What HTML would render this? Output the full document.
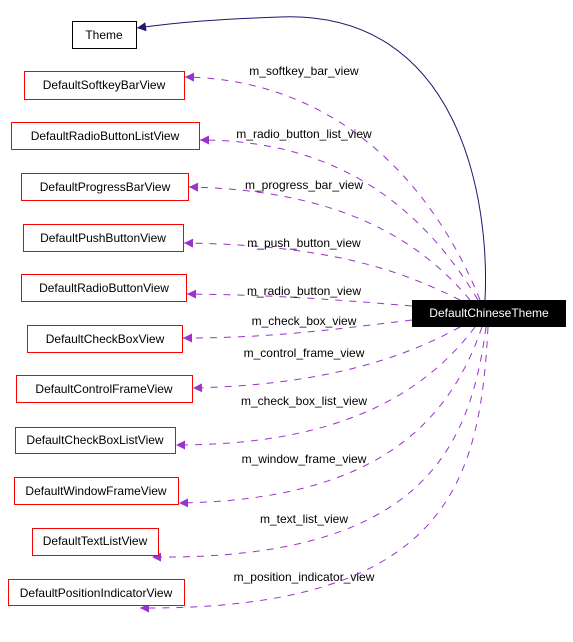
<!DOCTYPE html>
<html><head><meta charset="utf-8"><style>
body{margin:0;background:#fff;width:573px;height:637px;overflow:hidden}
svg text{font-family:"Liberation Sans",sans-serif;font-size:12px}
</style></head><body>
<svg width="573" height="637" viewBox="0 0 573 637" xmlns="http://www.w3.org/2000/svg">
<defs>
<marker id="pa" viewBox="0 0 10 10" refX="10" refY="5" markerWidth="12" markerHeight="9" markerUnits="userSpaceOnUse" orient="auto"><path d="M0,0L10,5L0,10z" fill="#9a32cd"/></marker>
<marker id="na" viewBox="0 0 10 10" refX="10" refY="5" markerWidth="12" markerHeight="9" markerUnits="userSpaceOnUse" orient="auto"><path d="M0,0L10,5L0,10z" fill="#191970"/></marker>
</defs>
<g fill="none" stroke="#9a32cd" stroke-dasharray="7,7" stroke-width="1">
<path d="M480,300 C440,200 350,80 185,77" marker-end="url(#pa)"/>
<path d="M478,300 C430,220 350,140 200,140" marker-end="url(#pa)"/>
<path d="M470,300 C420,240 340,190 189,187" marker-end="url(#pa)"/>
<path d="M460,300 C400,270 330,245 184,243" marker-end="url(#pa)"/>
<path d="M412,306 C340,300 280,295 187,294" marker-end="url(#pa)"/>
<path d="M412,320 C330,330 270,338 183,338" marker-end="url(#pa)"/>
<path d="M460,327 C400,360 320,385 193,388" marker-end="url(#pa)"/>
<path d="M475,327 C420,400 330,445 176,445" marker-end="url(#pa)"/>
<path d="M482,327 C450,420 380,500 179,503" marker-end="url(#pa)"/>
<path d="M486,327 C470,450 420,560 152,557" marker-end="url(#pa)"/>
<path d="M488,327 C480,480 450,610 140,608" marker-end="url(#pa)"/>
</g>
<path d="M485,300 C490,200 460,10 280,17 C220,19 180,22 137,28" fill="none" stroke="#191970" marker-end="url(#na)"/>
<g fill="#fff" stroke="#f00" stroke-width="1">
<rect x="72.5" y="21.5" width="64" height="27" stroke="#000"/>
<rect x="24.5" y="71.5" width="160" height="28"/>
<rect x="11.5" y="122.5" width="188" height="27"/>
<rect x="21.5" y="173.5" width="167" height="27"/>
<rect x="23.5" y="224.5" width="160" height="27"/>
<rect x="21.5" y="274.5" width="165" height="27"/>
<rect x="27.5" y="325.5" width="155" height="27"/>
<rect x="16.5" y="375.5" width="176" height="27"/>
<rect x="15.5" y="427.5" width="160" height="26"/>
<rect x="14.5" y="477.5" width="164" height="27"/>
<rect x="32.5" y="528.5" width="126" height="27"/>
<rect x="8.5" y="579.5" width="176" height="26"/>
</g>
<rect x="412" y="300" width="154" height="27" fill="#000"/>
<g text-anchor="middle">
<text x="104" y="39">Theme</text>
<text x="104" y="89">DefaultSoftkeyBarView</text>
<text x="105" y="140">DefaultRadioButtonListView</text>
<text x="105" y="191">DefaultProgressBarView</text>
<text x="103" y="242">DefaultPushButtonView</text>
<text x="104" y="292">DefaultRadioButtonView</text>
<text x="105" y="343">DefaultCheckBoxView</text>
<text x="104" y="393">DefaultControlFrameView</text>
<text x="95" y="444">DefaultCheckBoxListView</text>
<text x="96" y="495">DefaultWindowFrameView</text>
<text x="95" y="545">DefaultTextListView</text>
<text x="96" y="597">DefaultPositionIndicatorView</text>
<text x="489" y="317" fill="#fff">DefaultChineseTheme</text>
<text x="304" y="75">m_softkey_bar_view</text>
<text x="304" y="138">m_radio_button_list_view</text>
<text x="304" y="189">m_progress_bar_view</text>
<text x="304" y="247">m_push_button_view</text>
<text x="304" y="295">m_radio_button_view</text>
<text x="304" y="325">m_check_box_view</text>
<text x="304" y="357">m_control_frame_view</text>
<text x="304" y="405">m_check_box_list_view</text>
<text x="304" y="463">m_window_frame_view</text>
<text x="304" y="523">m_text_list_view</text>
<text x="304" y="581">m_position_indicator_view</text>
</g>
</svg>
</body></html>
